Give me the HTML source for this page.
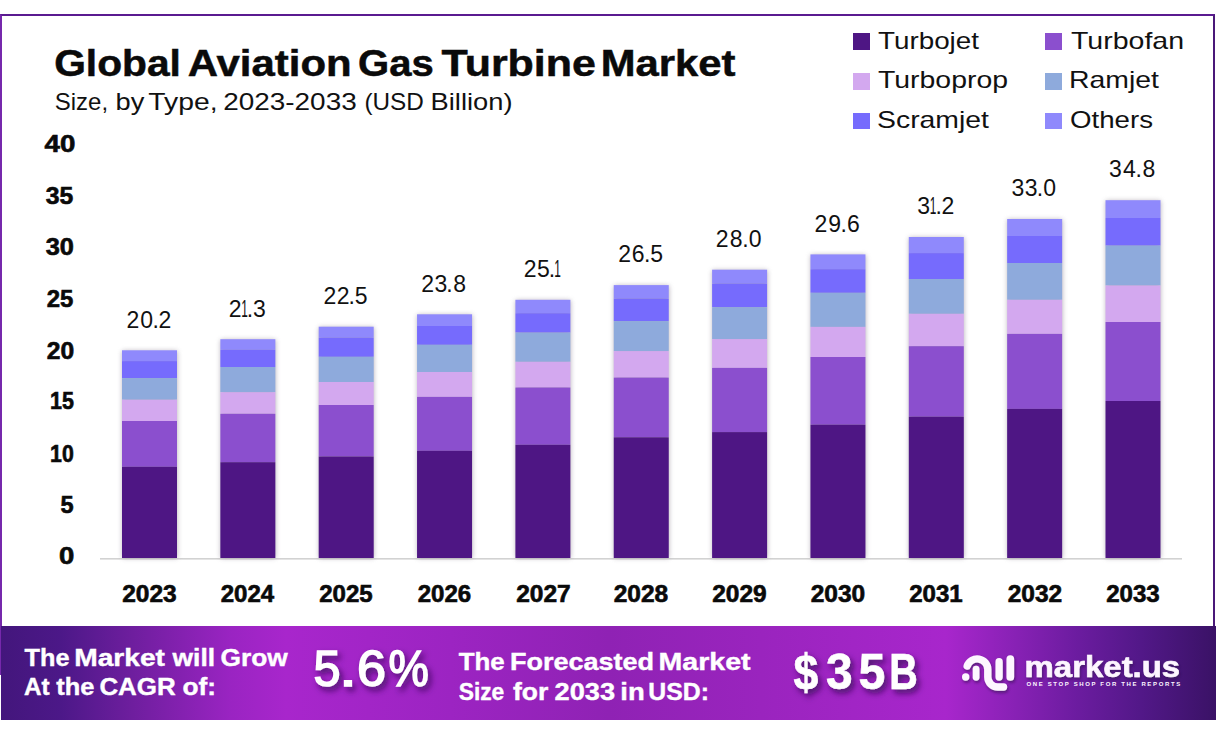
<!DOCTYPE html>
<html><head><meta charset="utf-8">
<style>
html,body{margin:0;padding:0;}
body{width:1216px;height:733px;overflow:hidden;background:#fff;position:relative;}
.frame{position:absolute;left:0;top:14px;width:1211px;height:659px;border:2px solid #5a1a90;border-left-color:#7628ac;border-right-color:#4a1878;border-bottom:none;}
.banner{position:absolute;left:1px;top:626px;width:1215px;height:94px;
 background:linear-gradient(90deg,#43167c 0px,#4c1888 60px,#6e1e9e 131px,#9a24c2 230px,#a826cc 285px,#9c24c2 450px,#8f22b4 608px,#9a24be 760px,#a826cc 945px,#8c22b8 1005px,#6c1ca0 1075px,#521888 1140px,#3a1266 1215px);}
svg{position:absolute;left:0;top:0;}
svg text{font-family:"Liberation Sans",Arial,sans-serif;}
</style></head><body>
<div class="frame"></div>
<svg width="1216" height="626">
<defs><filter id="blur" x="-20%" y="-20%" width="140%" height="140%"><feGaussianBlur stdDeviation="2.4"/></filter></defs>
<rect x="100" y="558" width="1082" height="1.6" fill="#d2d2d2"/>
<rect x="122.30" y="350.80" width="55" height="207.20" fill="#8a8090" opacity="0.6" filter="url(#blur)"/>
<rect x="122.00" y="350.30" width="55" height="10.80" fill="#8f89fc"/>
<rect x="122.00" y="361.10" width="55" height="17.00" fill="#766bfd"/>
<rect x="122.00" y="378.10" width="55" height="21.60" fill="#8eaadc"/>
<rect x="122.00" y="399.70" width="55" height="21.30" fill="#d3a8ef"/>
<rect x="122.00" y="421.00" width="55" height="45.80" fill="#8b4fce"/>
<rect x="122.00" y="466.80" width="55" height="91.20" fill="#4e1684"/>
<rect x="220.65" y="339.70" width="55" height="218.30" fill="#8a8090" opacity="0.6" filter="url(#blur)"/>
<rect x="220.35" y="339.20" width="55" height="10.60" fill="#8f89fc"/>
<rect x="220.35" y="349.80" width="55" height="17.20" fill="#766bfd"/>
<rect x="220.35" y="367.00" width="55" height="25.20" fill="#8eaadc"/>
<rect x="220.35" y="392.20" width="55" height="21.60" fill="#d3a8ef"/>
<rect x="220.35" y="413.80" width="55" height="48.40" fill="#8b4fce"/>
<rect x="220.35" y="462.20" width="55" height="95.80" fill="#4e1684"/>
<rect x="319.00" y="327.20" width="55" height="230.80" fill="#8a8090" opacity="0.6" filter="url(#blur)"/>
<rect x="318.70" y="326.70" width="55" height="11.00" fill="#8f89fc"/>
<rect x="318.70" y="337.70" width="55" height="19.10" fill="#766bfd"/>
<rect x="318.70" y="356.80" width="55" height="25.20" fill="#8eaadc"/>
<rect x="318.70" y="382.00" width="55" height="23.00" fill="#d3a8ef"/>
<rect x="318.70" y="405.00" width="55" height="51.50" fill="#8b4fce"/>
<rect x="318.70" y="456.50" width="55" height="101.50" fill="#4e1684"/>
<rect x="417.35" y="314.80" width="55" height="243.20" fill="#8a8090" opacity="0.6" filter="url(#blur)"/>
<rect x="417.05" y="314.30" width="55" height="11.70" fill="#8f89fc"/>
<rect x="417.05" y="326.00" width="55" height="18.80" fill="#766bfd"/>
<rect x="417.05" y="344.80" width="55" height="27.20" fill="#8eaadc"/>
<rect x="417.05" y="372.00" width="55" height="24.90" fill="#d3a8ef"/>
<rect x="417.05" y="396.90" width="55" height="53.90" fill="#8b4fce"/>
<rect x="417.05" y="450.80" width="55" height="107.20" fill="#4e1684"/>
<rect x="515.70" y="300.30" width="55" height="257.70" fill="#8a8090" opacity="0.6" filter="url(#blur)"/>
<rect x="515.40" y="299.80" width="55" height="13.40" fill="#8f89fc"/>
<rect x="515.40" y="313.20" width="55" height="19.40" fill="#766bfd"/>
<rect x="515.40" y="332.60" width="55" height="29.20" fill="#8eaadc"/>
<rect x="515.40" y="361.80" width="55" height="25.70" fill="#d3a8ef"/>
<rect x="515.40" y="387.50" width="55" height="57.30" fill="#8b4fce"/>
<rect x="515.40" y="444.80" width="55" height="113.20" fill="#4e1684"/>
<rect x="614.05" y="285.60" width="55" height="272.40" fill="#8a8090" opacity="0.6" filter="url(#blur)"/>
<rect x="613.75" y="285.10" width="55" height="13.50" fill="#8f89fc"/>
<rect x="613.75" y="298.60" width="55" height="22.50" fill="#766bfd"/>
<rect x="613.75" y="321.10" width="55" height="30.00" fill="#8eaadc"/>
<rect x="613.75" y="351.10" width="55" height="26.50" fill="#d3a8ef"/>
<rect x="613.75" y="377.60" width="55" height="59.70" fill="#8b4fce"/>
<rect x="613.75" y="437.30" width="55" height="120.70" fill="#4e1684"/>
<rect x="712.40" y="270.20" width="55" height="287.80" fill="#8a8090" opacity="0.6" filter="url(#blur)"/>
<rect x="712.10" y="269.70" width="55" height="13.90" fill="#8f89fc"/>
<rect x="712.10" y="283.60" width="55" height="23.60" fill="#766bfd"/>
<rect x="712.10" y="307.20" width="55" height="31.90" fill="#8eaadc"/>
<rect x="712.10" y="339.10" width="55" height="28.80" fill="#d3a8ef"/>
<rect x="712.10" y="367.90" width="55" height="64.20" fill="#8b4fce"/>
<rect x="712.10" y="432.10" width="55" height="125.90" fill="#4e1684"/>
<rect x="810.75" y="254.90" width="55" height="303.10" fill="#8a8090" opacity="0.6" filter="url(#blur)"/>
<rect x="810.45" y="254.40" width="55" height="14.80" fill="#8f89fc"/>
<rect x="810.45" y="269.20" width="55" height="23.60" fill="#766bfd"/>
<rect x="810.45" y="292.80" width="55" height="34.10" fill="#8eaadc"/>
<rect x="810.45" y="326.90" width="55" height="30.10" fill="#d3a8ef"/>
<rect x="810.45" y="357.00" width="55" height="67.70" fill="#8b4fce"/>
<rect x="810.45" y="424.70" width="55" height="133.30" fill="#4e1684"/>
<rect x="909.10" y="237.50" width="55" height="320.50" fill="#8a8090" opacity="0.6" filter="url(#blur)"/>
<rect x="908.80" y="237.00" width="55" height="16.10" fill="#8f89fc"/>
<rect x="908.80" y="253.10" width="55" height="25.90" fill="#766bfd"/>
<rect x="908.80" y="279.00" width="55" height="34.80" fill="#8eaadc"/>
<rect x="908.80" y="313.80" width="55" height="32.40" fill="#d3a8ef"/>
<rect x="908.80" y="346.20" width="55" height="70.50" fill="#8b4fce"/>
<rect x="908.80" y="416.70" width="55" height="141.30" fill="#4e1684"/>
<rect x="1007.45" y="219.50" width="55" height="338.50" fill="#8a8090" opacity="0.6" filter="url(#blur)"/>
<rect x="1007.15" y="219.00" width="55" height="17.00" fill="#8f89fc"/>
<rect x="1007.15" y="236.00" width="55" height="27.00" fill="#766bfd"/>
<rect x="1007.15" y="263.00" width="55" height="36.80" fill="#8eaadc"/>
<rect x="1007.15" y="299.80" width="55" height="34.10" fill="#d3a8ef"/>
<rect x="1007.15" y="333.90" width="55" height="75.00" fill="#8b4fce"/>
<rect x="1007.15" y="408.90" width="55" height="149.10" fill="#4e1684"/>
<rect x="1105.80" y="200.70" width="55" height="357.30" fill="#8a8090" opacity="0.6" filter="url(#blur)"/>
<rect x="1105.50" y="200.20" width="55" height="17.80" fill="#8f89fc"/>
<rect x="1105.50" y="218.00" width="55" height="27.60" fill="#766bfd"/>
<rect x="1105.50" y="245.60" width="55" height="39.90" fill="#8eaadc"/>
<rect x="1105.50" y="285.50" width="55" height="36.50" fill="#d3a8ef"/>
<rect x="1105.50" y="322.00" width="55" height="79.00" fill="#8b4fce"/>
<rect x="1105.50" y="401.00" width="55" height="157.00" fill="#4e1684"/>
<rect x="853" y="33" width="17" height="17" fill="#4e1684"/>
<rect x="1045" y="33" width="17" height="17" fill="#8b4fce"/>
<rect x="853" y="73" width="17" height="17" fill="#d3a8ef"/>
<rect x="1045" y="73" width="17" height="17" fill="#8eaadc"/>
<rect x="853" y="113" width="17" height="16" fill="#766bfd"/>
<rect x="1045" y="113" width="17" height="16" fill="#8f89fc"/>
<text id="v0" x="132.80 146.55 155.70 165.00" y="327.60" font-size="23" fill="#111" text-anchor="middle">20.2</text>
<text id="x0" x="149.50" y="602.30" font-size="23" font-weight="bold" fill="#0a0a0a" text-anchor="middle" textLength="54.50" lengthAdjust="spacingAndGlyphs" stroke="#0a0a0a" stroke-width="0.6">2023</text>
<g id="v1"><text x="235.05" y="316.50" font-size="23" fill="#111" text-anchor="middle">2</text><text x="244.55" y="316.50" font-size="23" fill="#111" text-anchor="middle" textLength="6.6" lengthAdjust="spacingAndGlyphs">1</text><text x="250.05" y="316.50" font-size="23" fill="#111" text-anchor="middle">.</text><text x="259.40" y="316.50" font-size="23" fill="#111" text-anchor="middle">3</text></g>
<text id="x1" x="247.50" y="602.30" font-size="23" font-weight="bold" fill="#0a0a0a" text-anchor="middle" textLength="53.50" lengthAdjust="spacingAndGlyphs" stroke="#0a0a0a" stroke-width="0.6">2024</text>
<text id="v2" x="330.00 343.20 351.80 361.15" y="304.00" font-size="23" fill="#111" text-anchor="middle">22.5</text>
<text id="x2" x="346.00" y="602.30" font-size="23" font-weight="bold" fill="#0a0a0a" text-anchor="middle" textLength="53.50" lengthAdjust="spacingAndGlyphs" stroke="#0a0a0a" stroke-width="0.6">2025</text>
<text id="v3" x="427.65 440.90 449.55 459.55" y="291.60" font-size="23" fill="#111" text-anchor="middle">23.8</text>
<text id="x3" x="444.50" y="602.30" font-size="23" font-weight="bold" fill="#0a0a0a" text-anchor="middle" textLength="53.50" lengthAdjust="spacingAndGlyphs" stroke="#0a0a0a" stroke-width="0.6">2026</text>
<g id="v4"><text x="530.10" y="277.10" font-size="23" fill="#111" text-anchor="middle">2</text><text x="543.35" y="277.10" font-size="23" fill="#111" text-anchor="middle">5</text><text x="552.00" y="277.10" font-size="23" fill="#111" text-anchor="middle">.</text><text x="557.60" y="277.10" font-size="23" fill="#111" text-anchor="middle" textLength="6.6" lengthAdjust="spacingAndGlyphs">1</text></g>
<text id="x4" x="543.50" y="602.30" font-size="23" font-weight="bold" fill="#0a0a0a" text-anchor="middle" textLength="54.50" lengthAdjust="spacingAndGlyphs" stroke="#0a0a0a" stroke-width="0.6">2027</text>
<text id="v5" x="624.60 638.25 647.30 656.65" y="262.40" font-size="23" fill="#111" text-anchor="middle">26.5</text>
<text id="x5" x="641.00" y="602.30" font-size="23" font-weight="bold" fill="#0a0a0a" text-anchor="middle" textLength="54.50" lengthAdjust="spacingAndGlyphs" stroke="#0a0a0a" stroke-width="0.6">2028</text>
<text id="v6" x="722.20 736.10 745.40 755.25" y="247.00" font-size="23" fill="#111" text-anchor="middle">28.0</text>
<text id="x6" x="739.50" y="602.30" font-size="23" font-weight="bold" fill="#0a0a0a" text-anchor="middle" textLength="54.50" lengthAdjust="spacingAndGlyphs" stroke="#0a0a0a" stroke-width="0.6">2029</text>
<text id="v7" x="820.90 834.55 843.60 853.35" y="231.70" font-size="23" fill="#111" text-anchor="middle">29.6</text>
<text id="x7" x="838.00" y="602.30" font-size="23" font-weight="bold" fill="#0a0a0a" text-anchor="middle" textLength="54.50" lengthAdjust="spacingAndGlyphs" stroke="#0a0a0a" stroke-width="0.6">2030</text>
<g id="v8"><text x="923.55" y="214.30" font-size="23" fill="#111" text-anchor="middle">3</text><text x="933.10" y="214.30" font-size="23" fill="#111" text-anchor="middle" textLength="6.6" lengthAdjust="spacingAndGlyphs">1</text><text x="938.60" y="214.30" font-size="23" fill="#111" text-anchor="middle">.</text><text x="947.90" y="214.30" font-size="23" fill="#111" text-anchor="middle">2</text></g>
<text id="x8" x="936.00" y="602.30" font-size="23" font-weight="bold" fill="#0a0a0a" text-anchor="middle" textLength="53.50" lengthAdjust="spacingAndGlyphs" stroke="#0a0a0a" stroke-width="0.6">2031</text>
<text id="v9" x="1017.90 1031.20 1039.85 1049.70" y="196.30" font-size="23" fill="#111" text-anchor="middle">33.0</text>
<text id="x9" x="1035.00" y="602.30" font-size="23" font-weight="bold" fill="#0a0a0a" text-anchor="middle" textLength="54.50" lengthAdjust="spacingAndGlyphs" stroke="#0a0a0a" stroke-width="0.6">2032</text>
<text id="v10" x="1115.35 1129.40 1138.80 1148.80" y="176.50" font-size="23" fill="#111" text-anchor="middle">34.8</text>
<text id="x10" x="1133.00" y="602.30" font-size="23" font-weight="bold" fill="#0a0a0a" text-anchor="middle" textLength="53.50" lengthAdjust="spacingAndGlyphs" stroke="#0a0a0a" stroke-width="0.6">2033</text>
<text id="y0" x="74.30" y="564.30" font-size="23" font-weight="bold" fill="#0a0a0a" text-anchor="end" textLength="15.30" lengthAdjust="spacingAndGlyphs" stroke="#0a0a0a" stroke-width="0.6">0</text>
<text id="y5" x="73.50" y="513.20" font-size="23" font-weight="bold" fill="#0a0a0a" text-anchor="end" textLength="13.10" lengthAdjust="spacingAndGlyphs" stroke="#0a0a0a" stroke-width="0.6">5</text>
<text id="y10" x="73.80" y="462.10" font-size="23" font-weight="bold" fill="#0a0a0a" text-anchor="end" textLength="23.70" lengthAdjust="spacingAndGlyphs" stroke="#0a0a0a" stroke-width="0.6">10</text>
<text id="y15" x="73.90" y="409.40" font-size="23" font-weight="bold" fill="#0a0a0a" text-anchor="end" textLength="23.90" lengthAdjust="spacingAndGlyphs" stroke="#0a0a0a" stroke-width="0.6">15</text>
<text id="y20" x="74.20" y="358.70" font-size="23" font-weight="bold" fill="#0a0a0a" text-anchor="end" textLength="27.40" lengthAdjust="spacingAndGlyphs" stroke="#0a0a0a" stroke-width="0.6">20</text>
<text id="y25" x="73.40" y="306.70" font-size="23" font-weight="bold" fill="#0a0a0a" text-anchor="end" textLength="26.60" lengthAdjust="spacingAndGlyphs" stroke="#0a0a0a" stroke-width="0.6">25</text>
<text id="y30" x="73.90" y="254.50" font-size="23" font-weight="bold" fill="#0a0a0a" text-anchor="end" textLength="28.20" lengthAdjust="spacingAndGlyphs" stroke="#0a0a0a" stroke-width="0.6">30</text>
<text id="y35" x="73.20" y="204.40" font-size="23" font-weight="bold" fill="#0a0a0a" text-anchor="end" textLength="27.50" lengthAdjust="spacingAndGlyphs" stroke="#0a0a0a" stroke-width="0.6">35</text>
<text id="y40" x="75.30" y="151.80" font-size="23" font-weight="bold" fill="#0a0a0a" text-anchor="end" textLength="30.80" lengthAdjust="spacingAndGlyphs" stroke="#0a0a0a" stroke-width="0.6">40</text>
<text id="title_0" x="54.20" y="75.80" font-size="37" font-weight="bold" fill="#0a0a0a" textLength="126.70" lengthAdjust="spacingAndGlyphs" stroke="#0a0a0a" stroke-width="0.5">Global</text>
<text id="title_1" x="187.80" y="75.80" font-size="37" font-weight="bold" fill="#0a0a0a" textLength="163.80" lengthAdjust="spacingAndGlyphs" stroke="#0a0a0a" stroke-width="0.5">Aviation</text>
<text id="title_2" x="358.10" y="75.80" font-size="37" font-weight="bold" fill="#0a0a0a" textLength="75.70" lengthAdjust="spacingAndGlyphs" stroke="#0a0a0a" stroke-width="0.5">Gas</text>
<text id="title_3" x="441.60" y="75.80" font-size="37" font-weight="bold" fill="#0a0a0a" textLength="154.30" lengthAdjust="spacingAndGlyphs" stroke="#0a0a0a" stroke-width="0.5">Turbine</text>
<text id="title_4" x="600.70" y="75.80" font-size="37" font-weight="bold" fill="#0a0a0a" textLength="134.80" lengthAdjust="spacingAndGlyphs" stroke="#0a0a0a" stroke-width="0.5">Market</text>
<text id="sub_0" x="54.80" y="109.70" font-size="24" fill="#111" textLength="53.30" lengthAdjust="spacingAndGlyphs">Size,</text>
<text id="sub_1" x="115.60" y="109.70" font-size="24" fill="#111" textLength="28.80" lengthAdjust="spacingAndGlyphs">by</text>
<text id="sub_2" x="148.30" y="109.70" font-size="24" fill="#111" textLength="69.20" lengthAdjust="spacingAndGlyphs">Type,</text>
<text id="sub_3" x="223.20" y="109.70" font-size="24" fill="#111" textLength="133.50" lengthAdjust="spacingAndGlyphs">2023-2033</text>
<text id="sub_4" x="364.40" y="109.70" font-size="24" fill="#111" textLength="59.40" lengthAdjust="spacingAndGlyphs">(USD</text>
<text id="sub_5" x="430.60" y="109.70" font-size="24" fill="#111" textLength="81.90" lengthAdjust="spacingAndGlyphs">Billion)</text>
<text id="LTurbojet" x="878.00" y="49.00" font-size="24" fill="#111" textLength="101.00" lengthAdjust="spacingAndGlyphs">Turbojet</text>
<text id="LTurbofan" x="1071.00" y="49.00" font-size="24" fill="#111" textLength="113.00" lengthAdjust="spacingAndGlyphs">Turbofan</text>
<text id="LTurboprop" x="878.00" y="87.90" font-size="24" fill="#111" textLength="130.00" lengthAdjust="spacingAndGlyphs">Turboprop</text>
<text id="LRamjet" x="1069.00" y="88.00" font-size="24" fill="#111" textLength="90.00" lengthAdjust="spacingAndGlyphs">Ramjet</text>
<text id="LScramjet" x="877.00" y="127.80" font-size="24" fill="#111" textLength="112.00" lengthAdjust="spacingAndGlyphs">Scramjet</text>
<text id="LOthers" x="1070.00" y="128.30" font-size="24" fill="#111" textLength="83.00" lengthAdjust="spacingAndGlyphs">Others</text>
</svg>
<div class="banner"></div>
<svg width="1216" height="733">
<defs><filter id="lsh" x="-20%" y="-30%" width="150%" height="170%"><feDropShadow dx="1" dy="2" stdDeviation="1.5" flood-color="#2a0848" flood-opacity="0.6"/></filter><filter id="tsh" x="-20%" y="-30%" width="150%" height="170%"><feDropShadow dx="3" dy="4" stdDeviation="3" flood-color="#3a0a5a" flood-opacity="0.85"/></filter></defs>
<text id="b1a_0" x="24.60" y="665.70" font-size="24" font-weight="bold" fill="#fff" textLength="44.90" lengthAdjust="spacingAndGlyphs" stroke="#fff" stroke-width="0.4">The</text>
<text id="b1a_1" x="74.20" y="665.70" font-size="24" font-weight="bold" fill="#fff" textLength="90.80" lengthAdjust="spacingAndGlyphs" stroke="#fff" stroke-width="0.4">Market</text>
<text id="b1a_2" x="172.60" y="665.70" font-size="24" font-weight="bold" fill="#fff" textLength="42.50" lengthAdjust="spacingAndGlyphs" stroke="#fff" stroke-width="0.4">will</text>
<text id="b1a_3" x="220.60" y="665.70" font-size="24" font-weight="bold" fill="#fff" textLength="67.20" lengthAdjust="spacingAndGlyphs" stroke="#fff" stroke-width="0.4">Grow</text>
<text id="b1b_0" x="24.00" y="695.30" font-size="24" font-weight="bold" fill="#fff" textLength="25.60" lengthAdjust="spacingAndGlyphs" stroke="#fff" stroke-width="0.4">At</text>
<text id="b1b_1" x="56.20" y="695.30" font-size="24" font-weight="bold" fill="#fff" textLength="38.10" lengthAdjust="spacingAndGlyphs" stroke="#fff" stroke-width="0.4">the</text>
<text id="b1b_2" x="99.40" y="695.30" font-size="24" font-weight="bold" fill="#fff" textLength="76.30" lengthAdjust="spacingAndGlyphs" stroke="#fff" stroke-width="0.4">CAGR</text>
<text id="b1b_3" x="182.60" y="695.30" font-size="24" font-weight="bold" fill="#fff" textLength="33.50" lengthAdjust="spacingAndGlyphs" stroke="#fff" stroke-width="0.4">of:</text>
<text id="b2a_0" x="458.70" y="669.60" font-size="24" font-weight="bold" fill="#fff" textLength="46.00" lengthAdjust="spacingAndGlyphs" stroke="#fff" stroke-width="0.4">The</text>
<text id="b2a_1" x="509.90" y="669.60" font-size="24" font-weight="bold" fill="#fff" textLength="144.20" lengthAdjust="spacingAndGlyphs" stroke="#fff" stroke-width="0.4">Forecasted</text>
<text id="b2a_2" x="658.50" y="669.60" font-size="24" font-weight="bold" fill="#fff" textLength="92.10" lengthAdjust="spacingAndGlyphs" stroke="#fff" stroke-width="0.4">Market</text>
<text id="b2b_0" x="458.70" y="699.50" font-size="24" font-weight="bold" fill="#fff" textLength="45.60" lengthAdjust="spacingAndGlyphs" stroke="#fff" stroke-width="0.4">Size</text>
<text id="b2b_1" x="513.00" y="699.50" font-size="24" font-weight="bold" fill="#fff" textLength="35.30" lengthAdjust="spacingAndGlyphs" stroke="#fff" stroke-width="0.4">for</text>
<text id="b2b_2" x="554.50" y="699.50" font-size="24" font-weight="bold" fill="#fff" textLength="60.50" lengthAdjust="spacingAndGlyphs" stroke="#fff" stroke-width="0.4">2033</text>
<text id="b2b_3" x="620.30" y="699.50" font-size="24" font-weight="bold" fill="#fff" textLength="24.40" lengthAdjust="spacingAndGlyphs" stroke="#fff" stroke-width="0.4">in</text>
<text id="b2b_4" x="648.30" y="699.50" font-size="24" font-weight="bold" fill="#fff" textLength="60.60" lengthAdjust="spacingAndGlyphs" stroke="#fff" stroke-width="0.4">USD:</text>
<g filter="url(#tsh)"><text id="b56_0" x="313.50" y="686.20" font-size="49.6" fill="#fff" textLength="27.00" lengthAdjust="spacingAndGlyphs" stroke="#fff" stroke-width="1.5">5</text>
<text id="b56_1" x="339.00" y="686.20" font-size="49.6" fill="#fff" textLength="18.00" lengthAdjust="spacingAndGlyphs" stroke="#fff" stroke-width="1.5">.</text>
<text id="b56_2" x="357.00" y="686.20" font-size="49.6" fill="#fff" textLength="29.00" lengthAdjust="spacingAndGlyphs" stroke="#fff" stroke-width="1.5">6</text>
<text id="b56_3" x="388.50" y="686.20" font-size="49.6" fill="#fff" textLength="40.30" lengthAdjust="spacingAndGlyphs" stroke="#fff" stroke-width="1.5">%</text></g>
<g filter="url(#lsh)" fill="none" stroke="#fdf6ff" stroke-linecap="round">
<path d="M 967.2 666 A 10.6 10.6 0 0 1 987.8 669.5 L 987.8 677 A 10 10 0 0 0 997.8 687 L 1003.5 687" stroke-width="7.4"/>
<line x1="976.1" y1="669.1" x2="976.1" y2="677.3" stroke-width="6.8"/>
<line x1="999.1" y1="661.7" x2="999.1" y2="677" stroke-width="7.3"/>
<line x1="1010.3" y1="659" x2="1010.3" y2="676.9" stroke-width="7.7"/>
<circle cx="965.7" cy="677" r="3.7" fill="#fdf6ff" stroke="none"/>
</g>
<text id="lg1" x="1024.60" y="676.80" font-size="30" font-weight="bold" fill="#fdf6ff" textLength="155.60" lengthAdjust="spacingAndGlyphs" stroke="#fdf6ff" stroke-width="0.6" filter="url(#lsh)">market.us</text>
<text id="lg2" x="1026.50" y="686.40" font-size="6.0" font-weight="bold" fill="#fdf6ff" textLength="153.70" lengthAdjust="spacing">ONE STOP SHOP FOR THE REPORTS</text>
<g filter="url(#tsh)"><text id="b35_0" x="793.60" y="688.90" font-size="50" font-weight="bold" fill="#fff" textLength="24.80" lengthAdjust="spacingAndGlyphs" stroke="#fff" stroke-width="0.6">$</text>
<text id="b35_1" x="826.10" y="688.90" font-size="50" font-weight="bold" fill="#fff" textLength="26.60" lengthAdjust="spacingAndGlyphs" stroke="#fff" stroke-width="0.6">3</text>
<text id="b35_2" x="858.50" y="688.90" font-size="50" font-weight="bold" fill="#fff" textLength="26.80" lengthAdjust="spacingAndGlyphs" stroke="#fff" stroke-width="0.6">5</text>
<text id="b35_3" x="889.20" y="688.90" font-size="50" font-weight="bold" fill="#fff" textLength="28.50" lengthAdjust="spacingAndGlyphs" stroke="#fff" stroke-width="0.6">B</text></g>
</svg>
</body></html>
